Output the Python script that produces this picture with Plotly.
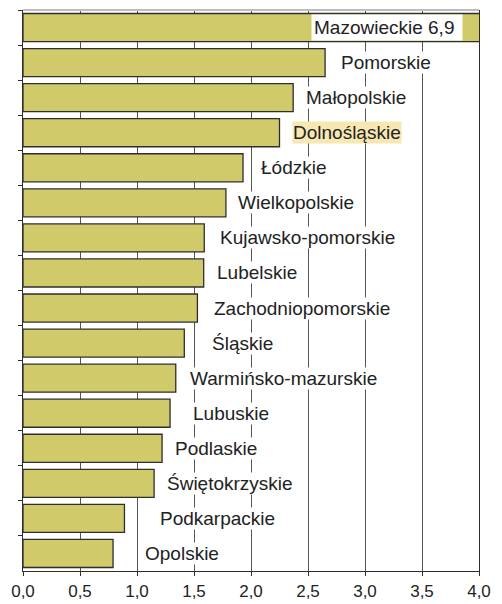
import plotly.graph_objects as go

# ---- data ----
regions = [
    "Mazowieckie", "Pomorskie", "Małopolskie", "Dolnośląskie", "Łódzkie",
    "Wielkopolskie", "Kujawsko-pomorskie", "Lubelskie", "Zachodniopomorskie",
    "Śląskie", "Warmińsko-mazurskie", "Lubuskie", "Podlaskie",
    "Świętokrzyskie", "Podkarpackie", "Opolskie",
]
values = [6.9, 2.65, 2.37, 2.25, 1.93, 1.78, 1.59, 1.585, 1.53,
          1.415, 1.34, 1.29, 1.22, 1.15, 0.89, 0.79]
x_ticks = [0.0, 0.5, 1.0, 1.5, 2.0, 2.5, 3.0, 3.5, 4.0]
x_max = 4.0
highlighted = "Dolnośląskie"

# ---- style ----
label_gap_px = [16, 15, 12, 12, 17, 11, 15, 12, 16, 27, 13, 22, 12, 12, 35, 31]
bar_color = "#d1ca6b"
text_color = "#222222"
font_family = "Liberation Sans, Arial, sans-serif"
label_size = 19
tick_size = 17

fig = go.Figure(
    go.Bar(
        x=values,
        y=regions,
        orientation="h",
        width=0.8,
        marker=dict(color=bar_color, line=dict(color="#2e2e2e", width=1.3)),
        hoverinfo="skip",
    )
)


def fmt(v):
    return f"{v:.1f}".replace(".", ",")


annotations = []
for name, v, gap in zip(regions, values, label_gap_px):
    if v > x_max:
        annotations.append(dict(
            x=x_max, y=name, xref="x", yref="y",
            text=f"{name} {fmt(v)} ", showarrow=False,
            xanchor="right", xshift=-gap,
            font=dict(size=label_size, color=text_color, family=font_family),
            bgcolor="white", borderpad=2,
        ))
    else:
        annotations.append(dict(
            x=v, y=name, xref="x", yref="y",
            text=name, showarrow=False,
            xanchor="left", xshift=gap,
            font=dict(size=label_size, color=text_color, family=font_family),
            bgcolor="#f7e8b2" if name == highlighted else "white",
            borderpad=0,
        ))

fig.update_layout(
    width=494,
    height=596,
    margin=dict(l=15, r=23, t=2, b=33),
    paper_bgcolor="white",
    plot_bgcolor="white",
    showlegend=False,
    separators=", ",
    bargap=0.2,
    annotations=annotations,
    font=dict(family=font_family, color=text_color),
    shapes=[dict(type="line", xref="paper", yref="paper", x0=0, x1=1, y0=1, y1=1,
                 line=dict(color="#bdbdbd", width=2), layer="above")],
)

fig.update_xaxes(
    range=[0, x_max],
    automargin=False,
    tickmode="array",
    tickvals=x_ticks,
    ticktext=[fmt(t) for t in x_ticks],
    showgrid=True,
    gridcolor="#555555",
    gridwidth=1,
    showline=True,
    linecolor="#2e2e2e",
    linewidth=1.3,
    ticks="outside",
    ticklen=4,
    tickcolor="#2e2e2e",
    tickfont=dict(size=tick_size, color=text_color, family=font_family),
    zeroline=False,
    fixedrange=True,
)

fig.update_yaxes(
    autorange="reversed",
    automargin=False,
    showticklabels=False,
    showgrid=False,
    showline=True,
    mirror=True,
    linecolor="#2e2e2e",
    linewidth=1.3,
    ticks="outside",
    tickson="boundaries",
    ticklen=4,
    tickcolor="#2e2e2e",
    fixedrange=True,
)

fig.write_html("out.html")
